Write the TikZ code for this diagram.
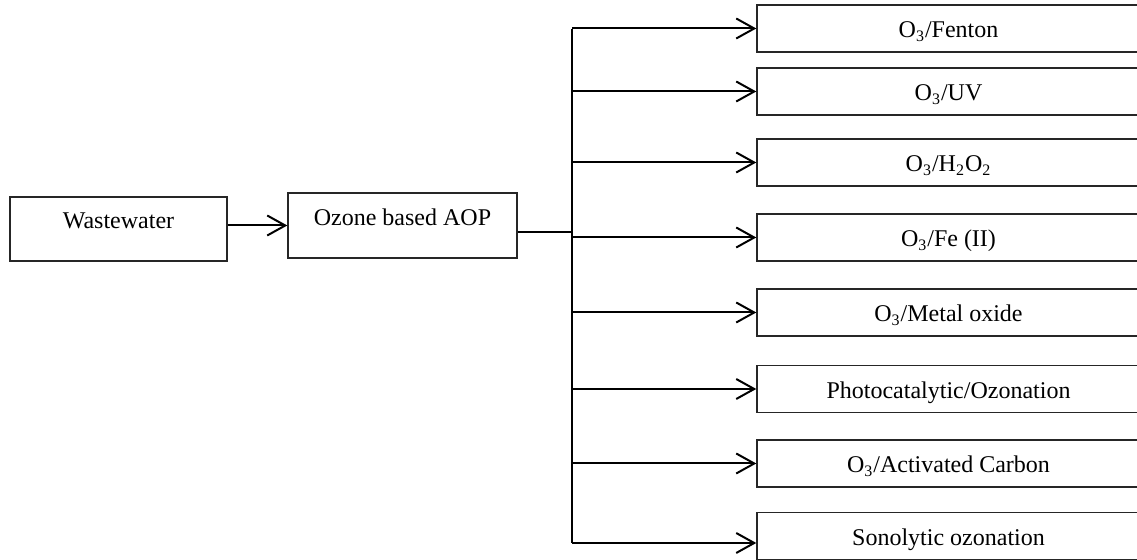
\documentclass[tikz,border=0pt]{standalone}
\usepackage{fontspec}
\setmainfont{Liberation Serif}
\usetikzlibrary{arrows.meta,calc}
\begin{document}
\begin{tikzpicture}[x=0.5pt,y=-0.5pt,
  box/.style={draw=black!85,line width=0.7pt,rectangle,inner sep=0pt,font=\fontsize{12pt}{14pt}\selectfont},
  rbox/.style={box,minimum width=191.5pt,minimum height=23.5pt,text height=11.5pt,text depth=2pt},
  conn/.style={line width=1pt,black},
  arr/.style={conn,-{Straight Barb[length=9pt,width=10pt,line width=1pt]}}]
\useasboundingbox (0,0) rectangle (1137,560);
\clip (0,0) rectangle (1137,560);
\node[box,minimum width=108.5pt,minimum height=32pt,text height=5pt,text depth=5pt] (ww) at (118.5,229) {Wastewater};
\node[box,minimum width=114.5pt,minimum height=32.5pt,text height=5.25pt,text depth=4.75pt] (aop) at (402.5,225.5) {Ozone based AOP};
\node[rbox] (b1) at (948.5,28.5) {O\textsubscript{3}/Fenton};
\node[rbox] (b2) at (948.5,91.5) {O\textsubscript{3}/UV};
\node[rbox] (b3) at (948.5,162.5) {O\textsubscript{3}/H\textsubscript{2}O\textsubscript{2}};
\node[rbox] (b4) at (948.5,237.5) {O\textsubscript{3}/Fe (II)};
\node[rbox] (b5) at (948.5,312.5) {O\textsubscript{3}/Metal oxide};
\node[rbox] (b6) at (948.5,389) {Photocatalytic/Ozonation};
\node[rbox] (b7) at (948.5,463.5) {O\textsubscript{3}/Activated Carbon};
\node[rbox] (b8) at (948.5,536) {Sonolytic ozonation};
\coordinate (top) at (572,29);
\coordinate (bot) at (572,543);
\coordinate (out) at ($(aop.east)+(0,6.5)$);
\draw[arr] (ww.east |- aop.west) -- (aop.west);
\draw[conn] (out) -- (out -| top);
\draw[conn] (top) -- (bot);
\foreach \i in {1,...,7} {\draw[arr] (top |- b\i.west) -- (b\i.west);}
\draw[arr] (bot) -- (bot -| b8.west);
\end{tikzpicture}
\end{document}
